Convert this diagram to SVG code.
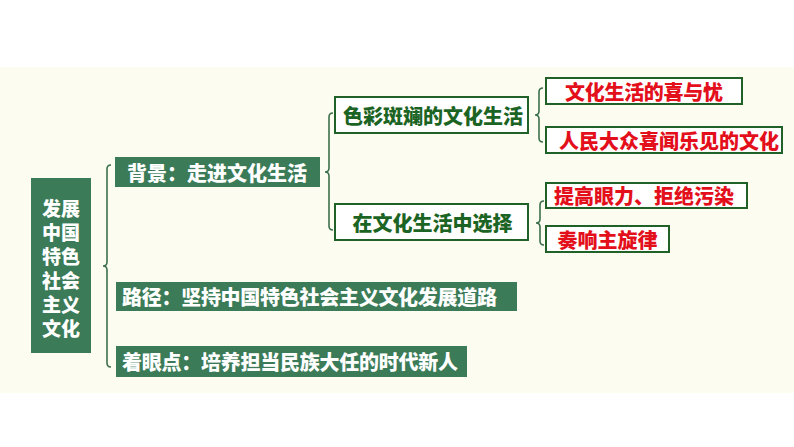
<svg xmlns="http://www.w3.org/2000/svg" width="794" height="447" viewBox="0 0 794 447">
<style>
text{font-family:"Noto Sans CJK SC","Noto Sans",sans-serif;font-weight:900;dominant-baseline:central}
.fill{fill:#3b7b58}
.wt{fill:#ffffff;font-size:20px}
.out{fill:#ffffff;stroke:#1f6126;stroke-width:2}
.gt{fill:#1c6424;font-size:20px;text-anchor:middle}
.rt{fill:#e3101c;font-size:20px;text-anchor:middle}
.br{fill:none;stroke:#3c6f4c;stroke-width:1.6}
</style>
<rect x="0" y="0" width="794" height="447" fill="#ffffff"/>
<rect x="0" y="67" width="794" height="326" fill="#fcfcf0"/>
<g id="connectors">
<path class="br" d="M111 165 Q107 165 107 169 L107 262 Q107 266 103 266 Q107 266 107 270 L107 363 Q107 367 111 367"/>
<path class="br" d="M333 113 Q329 113 329 117 L329 168 Q329 172 325 172 Q329 172 329 176 L329 226 Q329 230 333 230"/>
<path class="br" d="M543 88 Q539 88 539 92 L539 111 Q539 115 535 115 Q539 115 539 119 L539 138 Q539 142 543 142"/>
<path class="br" d="M544 201 Q540 201 540 205 L540 219 Q540 223 536 223 Q540 223 540 227 L540 241 Q540 245 544 245"/>
</g>
<g id="main">
<rect class="fill" x="31" y="178" width="60" height="175"/>
<text class="wt" style="font-size:19px;text-anchor:middle" x="61" y="207">发展</text>
<text class="wt" style="font-size:19px;text-anchor:middle" x="61" y="231">中国</text>
<text class="wt" style="font-size:19px;text-anchor:middle" x="61" y="255">特色</text>
<text class="wt" style="font-size:19px;text-anchor:middle" x="61" y="279">社会</text>
<text class="wt" style="font-size:19px;text-anchor:middle" x="61" y="303">主义</text>
<text class="wt" style="font-size:19px;text-anchor:middle" x="61" y="327">文化</text>
</g>
<g id="bg">
<rect class="fill" x="115" y="157" width="205" height="30"/>
<text class="wt" x="127" y="172">背景：走进文化生活</text>
</g>
<g id="path">
<rect class="fill" x="116" y="282" width="401" height="29"/>
<text class="wt" x="122" y="296.5" textLength="375" lengthAdjust="spacing">路径：坚持中国特色社会主义文化发展道路</text>
</g>
<g id="focus">
<rect class="fill" x="116" y="346" width="351" height="31"/>
<text class="wt" x="122" y="361.5" textLength="336" lengthAdjust="spacing">着眼点：培养担当民族大任的时代新人</text>
</g>
<g id="colorful">
<rect class="out" x="335" y="97" width="193" height="36"/>
<text class="gt" x="433" y="115">色彩斑斓的文化生活</text>
</g>
<g id="choose">
<rect class="out" x="335" y="204" width="193" height="36"/>
<text class="gt" x="432.5" y="222">在文化生活中选择</text>
</g>
<g id="joy">
<rect class="out" x="546" y="78" width="196" height="26"/>
<text class="rt" x="644" y="91" textLength="158" lengthAdjust="spacing">文化生活的喜与忧</text>
</g>
<g id="people">
<rect class="out" x="546" y="127" width="236" height="26"/>
<text class="rt" x="669" y="140">人民大众喜闻乐见的文化</text>
</g>
<g id="improve">
<rect class="out" x="546" y="183" width="201" height="25"/>
<text class="rt" x="644" y="195.5">提高眼力、拒绝污染</text>
</g>
<g id="melody">
<rect class="out" x="546" y="226" width="123" height="26"/>
<text class="rt" x="607.5" y="239">奏响主旋律</text>
</g>
</svg>
